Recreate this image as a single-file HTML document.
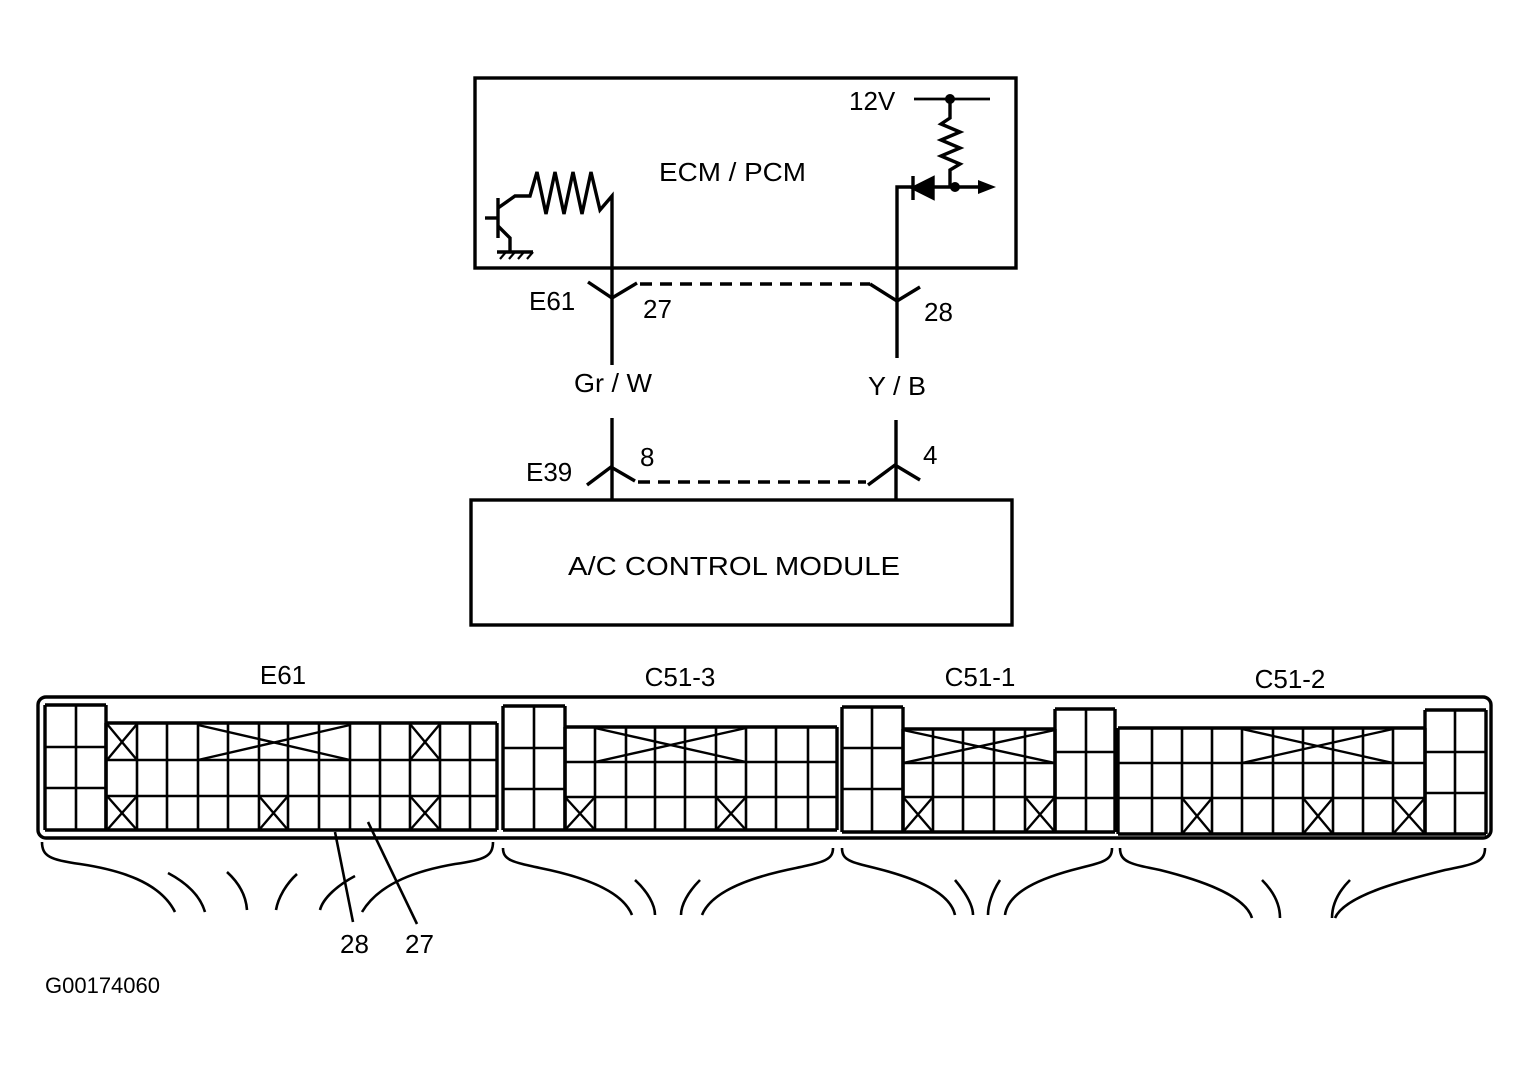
<!DOCTYPE html>
<html><head><meta charset="utf-8"><style>
html,body{margin:0;padding:0;background:#fff;}
svg{display:block;}
text{font-family:"Liberation Sans",Arial,sans-serif;fill:#000;}
</style></head><body>
<svg id="s" width="1530" height="1068" viewBox="0 0 1530 1068" xmlns="http://www.w3.org/2000/svg">
<g fill="none" stroke="#000" stroke-width="3.4" stroke-linejoin="miter">
<rect x="475" y="78" width="541" height="190"/>
<polyline points="485,218 498,218"/>
<line x1="498" y1="198" x2="498" y2="238"/>
<polyline points="498,208 515,196 530,196 537,172 546,214 555,172 564,214 573,172 582,214 591,172 600,210 612,196 612,365"/>
<polyline points="498,226 510,238 510,252"/>
<line x1="497" y1="252" x2="533" y2="252"/>
<g stroke-width="2.2"><line x1="500" y1="259" x2="506" y2="252"/><line x1="509" y1="259" x2="515" y2="252"/><line x1="518" y1="259" x2="524" y2="252"/><line x1="527" y1="259" x2="533" y2="252"/></g>
<line x1="914" y1="99" x2="990" y2="99" stroke-width="2.8"/>
<polyline points="950,99 950,118 941,124 960,132 941,140 960,148 941,156 960,164 950,170 950,187"/>
<polyline points="897,358 897,187 913,187"/>
<line x1="913" y1="176" x2="913" y2="200"/>
<polygon points="913,188 933,178 933,198" fill="#000"/>
<line x1="933" y1="187" x2="980" y2="187"/>
<polygon points="996,187 978,180 978,194" fill="#000" stroke="none"/>
<polyline points="588,282 612,298 637,283"/>
<line x1="640" y1="284" x2="870" y2="284" stroke-dasharray="12,8"/>
<polyline points="870,284 897,301 920,287"/>
<line x1="612" y1="418" x2="612" y2="500"/>
<line x1="896" y1="420" x2="896" y2="500"/>
<polyline points="587,485 611,467 635,481"/>
<line x1="638" y1="482" x2="866" y2="482" stroke-dasharray="12,8"/>
<polyline points="868,485 895,465 920,480"/>
<rect x="471" y="500" width="541" height="125"/>
<rect x="38" y="697" width="1453" height="141" rx="8"/>
</g>
<g fill="#000" stroke="none">
<circle cx="950" cy="99" r="5"/><circle cx="955" cy="187" r="5"/>
</g>
<g font-size="26">
<text x="659" y="181" textLength="147" lengthAdjust="spacingAndGlyphs">ECM / PCM</text>
<text x="849" y="110">12V</text>
<text x="529" y="310">E61</text>
<text x="643" y="318">27</text>
<text x="924" y="321">28</text>
<text x="574" y="392" textLength="78" lengthAdjust="spacingAndGlyphs">Gr / W</text>
<text x="868" y="395" textLength="58" lengthAdjust="spacingAndGlyphs">Y / B</text>
<text x="526" y="481">E39</text>
<text x="640" y="466">8</text>
<text x="923" y="464">4</text>
<text x="568" y="575" textLength="332" lengthAdjust="spacingAndGlyphs">A/C CONTROL MODULE</text>
<text x="283" y="684" text-anchor="middle">E61</text>
<text x="680" y="686" text-anchor="middle">C51-3</text>
<text x="980" y="686" text-anchor="middle">C51-1</text>
<text x="1290" y="688" text-anchor="middle">C51-2</text>
<text x="340" y="953">28</text>
<text x="405" y="953">27</text>
<text x="45" y="993" font-size="22">G00174060</text>
</g>
<g id="grid" fill="none" stroke="#000" stroke-width="3.4"></g>
<g fill="none" stroke="#000" stroke-width="2.6">
<line x1="335" y1="832" x2="353" y2="922"/>
<line x1="368" y1="822" x2="417" y2="924"/>
<path d="M42,842 C42,856 50,860 80,864 C120,870 160,882 175,912"/>
<path d="M493,842 C493,856 485,860 455,864 C420,870 380,882 362,912"/>
<path d="M168,873 C185,882 200,895 205,912"/>
<path d="M227,872 C238,882 246,895 247,910"/>
<path d="M297,874 C286,884 278,898 276,910"/>
<path d="M355,876 C338,885 323,898 320,910"/>
<path d="M503,848 C503,860 512,862 540,868 C580,876 622,890 632,915"/>
<path d="M833,848 C833,860 824,862 796,868 C756,876 712,890 702,915"/>
<path d="M635,880 C648,892 655,905 655,915"/>
<path d="M700,880 C688,892 681,905 681,915"/>
<path d="M842,848 C842,860 850,862 875,868 C915,878 950,892 955,915"/>
<path d="M1112,848 C1112,860 1104,862 1080,868 C1040,878 1008,892 1005,915"/>
<path d="M955,880 C965,892 973,905 973,915"/>
<path d="M1000,880 C992,892 988,905 988,915"/>
<path d="M1120,848 C1120,862 1130,864 1160,870 C1200,880 1245,895 1252,918"/>
<path d="M1485,848 C1485,862 1475,864 1445,870 C1405,880 1345,895 1335,918"/>
<path d="M1262,880 C1274,892 1280,905 1280,918"/>
<path d="M1350,880 C1338,892 1332,905 1332,918"/>
</g>
</svg>
<script>
(function(){
var g=document.getElementById('grid'),NS='http://www.w3.org/2000/svg';
function L(a,b,c,d,w){var l=document.createElementNS(NS,'line');l.setAttribute('x1',a);l.setAttribute('y1',b);l.setAttribute('x2',c);l.setAttribute('y2',d);if(w)l.setAttribute('stroke-width',w);g.appendChild(l);}
function B(cols,top,rows,bot){var x0=cols[0],x1=cols[cols.length-1];
 L(x0,top,x1,top);L(x0,bot,x1,bot);
 cols.forEach(function(x,i){L(x,top,x,bot,(i==0||i==cols.length-1)?3.4:2.6);});
 rows.forEach(function(y){L(x0,y,x1,y,2.6);});}
function X(x0,y0,x1,y1){L(x0,y0,x1,y1,2.4);L(x0,y1,x1,y0,2.4);}
B([45,76,106],705,[747,788],830);
B([106,137,167,198,228,259,288,319,350,380,410,440,470,497],723,[760,796],830);
X(107,724,137,760);X(410,724,440,760);X(107,796,137,830);X(259,796,288,830);X(410,796,440,830);
X(198,725,350,760);
B([503,534,565],706,[748,789],830);
B([565,595,626,655,685,716,746,776,808,837],727,[762,797],830);
X(565,797,595,830);X(716,797,746,830);X(595,728,746,762);
B([842,872,903],707,[748,789],832);
B([903,933,963,994,1025,1055],729,[763,797],832);
B([1055,1086,1115],709,[752,798],832);
X(903,797,933,832);X(1025,797,1055,832);X(903,730,1055,763);
B([1118,1152,1182,1212,1242,1273,1303,1333,1363,1393,1425],728,[763,798],834);
B([1425,1455,1486],710,[752,793],834);
X(1182,798,1212,834);X(1303,798,1333,834);X(1393,798,1425,834);X(1242,729,1393,763);
})();
</script>
</body></html>
